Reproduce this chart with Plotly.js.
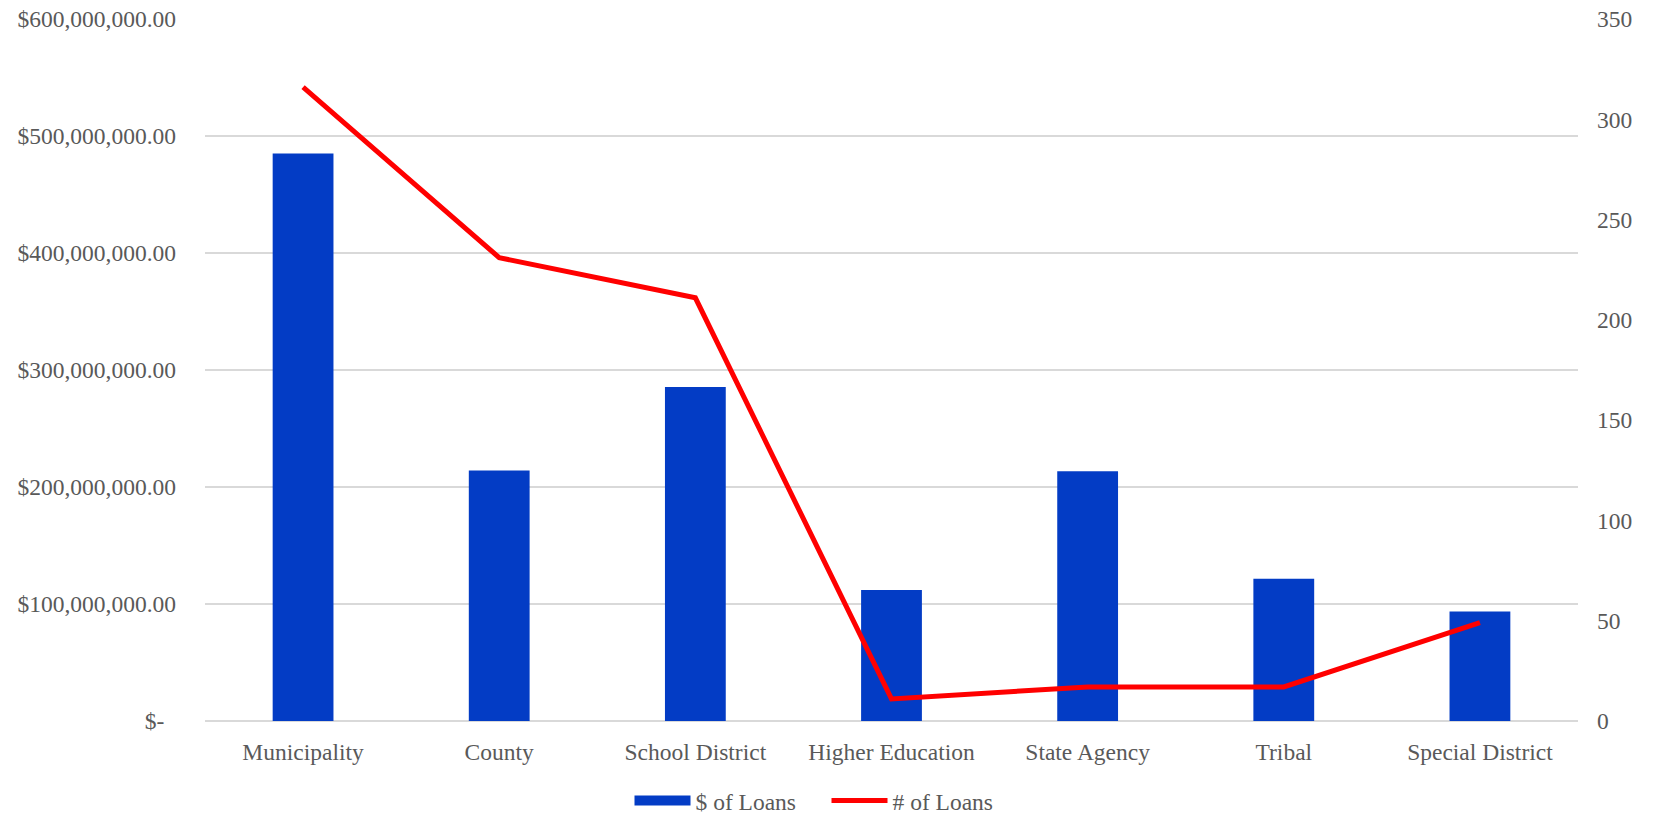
<!DOCTYPE html>
<html>
<head>
<meta charset="utf-8">
<script src="https://cdn.plot.ly/plotly-3.0.1.min.js"></script>
<style>html,body{margin:0;padding:0;background:#fff;}#chart{width:1653px;height:817px;}</style>
</head>
<body>
<div id="chart"></div>
<script>
const categories = ["Municipality", "County", "School District", "Higher Education", "State Agency", "Tribal", "Special District"];
const loanDollars = [485000000, 214000000, 285500000, 112000000, 213500000, 121500000, 93500000];
const loanCounts = [316, 231, 211, 11, 17, 17, 49];
const leftTickVals = [0, 100000000, 200000000, 300000000, 400000000, 500000000, 600000000];
const leftTickText = ["$-\u2002", "$100,000,000.00", "$200,000,000.00", "$300,000,000.00", "$400,000,000.00", "$500,000,000.00", "$600,000,000.00"];
const rightTickVals = [0, 50, 100, 150, 200, 250, 300, 350];

const barColor = "#033CC5";
const lineColor = "#FF0000";
const font = {family: "'Liberation Serif', 'DejaVu Serif', serif", size: 23.5, color: "#595959"};

const traces = [
  {
    type: "bar",
    name: "$ of Loans",
    x: categories,
    y: loanDollars,
    marker: {color: barColor},
    yaxis: "y",
    showlegend: false
  },
  {
    // legend proxy for the bars (wide swatch like the original)
    type: "scatter",
    mode: "lines",
    name: "$ of Loans",
    x: [null],
    y: [null],
    line: {color: barColor, width: 14},
    yaxis: "y",
    showlegend: true,
    hoverinfo: "skip"
  },
  {
    type: "scatter",
    mode: "lines",
    name: "# of Loans",
    x: categories,
    y: loanCounts,
    line: {color: lineColor, width: 5},
    yaxis: "y2"
  }
];

const layout = {
  width: 1653,
  height: 817,
  margin: {l: 205, r: 75, t: 19, b: 96},
  paper_bgcolor: "#ffffff",
  plot_bgcolor: "#ffffff",
  font: font,
  bargap: 0.69,
  showlegend: true,
  legend: {
    orientation: "h",
    x: 0.5, xanchor: "center", xref: "container",
    y: 0.02, yanchor: "middle", yref: "container",
    font: font,
    itemwidth: 56,
    entrywidth: 126,
    traceorder: "normal"
  },
  xaxis: {
    tickfont: font,
    showgrid: false,
    showline: false,
    ticks: "",
    ticklabelstandoff: 14
  },
  yaxis: {
    range: [0, 600000000],
    tickvals: leftTickVals,
    ticktext: leftTickText,
    tickfont: font,
    showgrid: true,
    gridcolor: "#D9D9D9",
    gridwidth: 1.3,
    zeroline: true,
    zerolinecolor: "#D9D9D9",
    zerolinewidth: 1.3,
    showline: false,
    ticks: "",
    ticklabelstandoff: 28
  },
  yaxis2: {
    range: [0, 350],
    tickvals: rightTickVals,
    overlaying: "y",
    side: "right",
    tickfont: font,
    showgrid: false,
    zeroline: false,
    showline: false,
    ticks: "",
    ticklabelstandoff: 18
  }
};

Plotly.newPlot("chart", traces, layout, {displayModeBar: false, staticPlot: true});
</script>
</body>
</html>
